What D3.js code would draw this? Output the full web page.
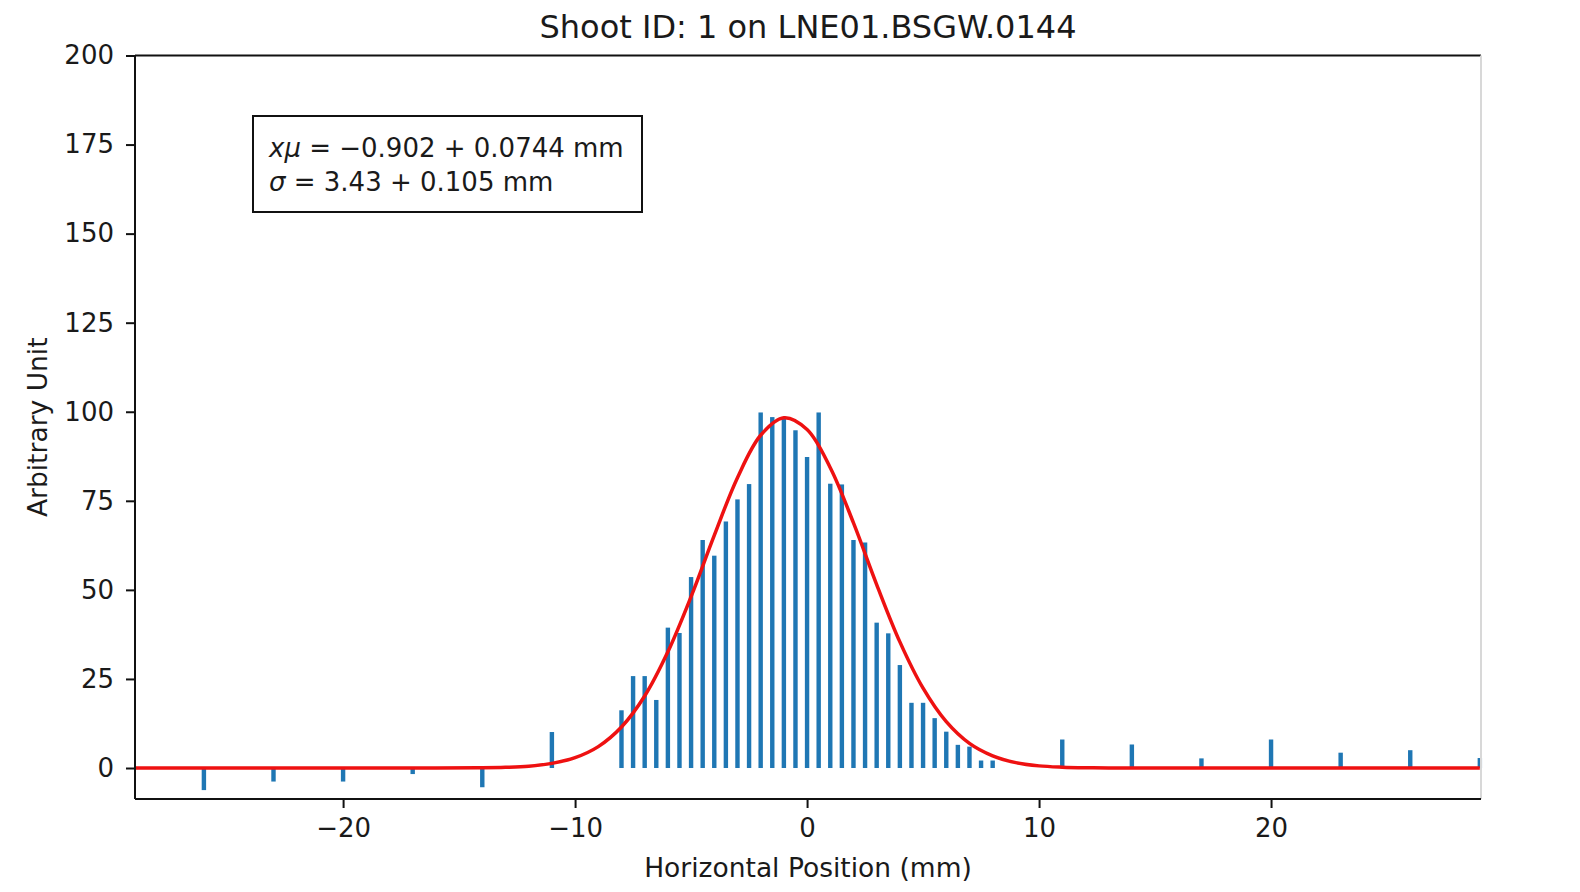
<html>

<head>
    <meta charset="utf-8">
    <script src="https://d3js.org/d3.v7.min.js"></script>
    <style>
        body { margin: 0; background: white; }
        text { font-family: "DejaVu Sans", sans-serif; fill: #1a1a1a; }
    </style>
</head>

<body>
    <svg id="chart" width="1580" height="892"></svg>
    <script>

        // bar positions (mm) and heights
        const tailLeftX = [-26, -23, -20, -17, -14, -11]
        const tailLeftY = [-6.2, -3.8, -3.8, -1.7, -5.4, 10.1]

        const centerX = [-8, -7.5, -7, -6.5, -6, -5.5, -5, -4.5, -4, -3.5, -3, -2.5, -2, -1.5, -1, -0.5,
            0, 0.5, 1, 1.5, 2, 2.5, 3, 3.5, 4, 4.5, 5, 5.5, 6, 6.5, 7, 7.5, 8]
        const centerY = [16.2, 25.8, 25.8, 19.1, 39.4, 37.9, 53.6, 64.0, 59.6, 69.2, 75.4, 79.7, 99.8, 98.5, 98.0, 94.8,
            87.3, 99.8, 79.8, 79.6, 64.0, 63.3, 40.8, 37.8, 28.9, 18.3, 18.3, 14.0, 10.2, 6.5, 6.0, 2.1, 2.1]

        const tailRightX = [11, 14, 17, 20, 23, 26, 29]
        const tailRightY = [8.0, 6.6, 2.7, 8.0, 4.3, 5.0, 2.8]

        // red fit curve
        const fitX = [-29, -16, -14, -13, -12, -11, -10, -9, -8, -7, -6, -5, -4, -3, -2, -1, 0,
            1, 2, 3, 4, 5, 6, 7, 8, 9, 10, 11, 12, 13, 15, 29]
        const fitY = [0, 0, 0.07, 0.2, 0.5, 1.3, 2.9, 6.0, 11.5, 20.2, 32.6, 48.1, 65.3, 81.5, 93.4, 98.3, 95.0,
            84.3, 68.8, 51.5, 35.4, 22.4, 13.0, 6.9, 3.4, 1.5, 0.6, 0.24, 0.08, 0.02, 0, 0]

        const xTicks = [-20, -10, 0, 10, 20]
        const yTicks = [0, 25, 50, 75, 100, 125, 150, 175, 200]

        const title = "Shoot ID: 1 on LNE01.BSGW.0144"
        const xLabel = "Horizontal Position (mm)"
        const yLabel = "Arbitrary Unit"

        const svg = d3.select("#chart")
        const pLeft = 135, pRight = 1481, pTop = 55.5, pBottom = 799
        const barWidth = 0.19

        const x = d3.scaleLinear().domain([-28.97, 29.05]).range([pLeft, pRight])
        const y = d3.scaleLinear().domain([-8.7, 200]).range([pBottom, pTop])

        const bars = []
        tailLeftX.forEach((v, i) => bars.push({ x: v, y: tailLeftY[i] }))
        centerX.forEach((v, i) => bars.push({ x: v, y: centerY[i] }))
        tailRightX.forEach((v, i) => bars.push({ x: v, y: tailRightY[i] }))

        const bw = x(barWidth) - x(0)
        svg.append("g").selectAll("rect").data(bars)
            .join("rect")
            .attr("x", d => x(d.x) - bw / 2)
            .attr("width", bw)
            .attr("y", d => Math.min(y(d.y), y(0)))
            .attr("height", d => Math.abs(y(d.y) - y(0)))
            .style("fill", "#1f77b4")

        const fit = fitX.map((v, i) => [v, fitY[i]])
        const line = d3.line().x(d => x(d[0])).y(d => y(d[1])).curve(d3.curveCatmullRom.alpha(0.5))
        svg.append("path").datum(fit)
            .attr("d", line)
            .style("fill", "none")
            .style("stroke", "#ee1111")
            .style("stroke-width", 3.5)

        // spines
        svg.append("line").attr("x1", pLeft).attr("x2", pRight).attr("y1", pTop).attr("y2", pTop)
            .style("stroke", "#111").style("stroke-width", 2)
        svg.append("line").attr("x1", pRight).attr("x2", pRight).attr("y1", pTop).attr("y2", pBottom)
            .style("stroke", "#d8d8d8").style("stroke-width", 2)

        const xAxis = svg.append("g")
            .attr("transform", `translate(0,${pBottom})`)
            .call(d3.axisBottom(x).tickValues(xTicks).tickSize(9).tickPadding(11)
                .tickFormat(d => d3.format("d")(d).replace("-", "\u2212")))
        const yAxis = svg.append("g")
            .attr("transform", `translate(${pLeft},0)`)
            .call(d3.axisLeft(y).tickValues(yTicks).tickSize(9).tickPadding(12))

        ;[xAxis, yAxis].forEach(a => {
            a.select(".domain").style("stroke", "#111").style("stroke-width", 2)
            a.selectAll(".tick line").style("stroke", "#111").style("stroke-width", 2)
            a.selectAll(".tick text")
                .style("font-family", "DejaVu Sans")
                .style("font-size", "26px")
                .style("fill", "#1a1a1a")
        })
        // extend the bottom/left spines to the full plot box
        xAxis.select(".domain").attr("d", `M${pLeft},0H${pRight}`)
        yAxis.select(".domain").attr("d", `M0,${pBottom}V${pTop}`)

        svg.append("text")
            .attr("x", (pLeft + pRight) / 2).attr("y", 38)
            .attr("text-anchor", "middle")
            .style("font-size", "32px")
            .text(title)

        svg.append("text")
            .attr("x", (pLeft + pRight) / 2).attr("y", 877)
            .attr("text-anchor", "middle")
            .style("font-size", "26.5px")
            .text(xLabel)

        svg.append("text")
            .attr("transform", `translate(47,${(pTop + pBottom) / 2}) rotate(-90)`)
            .attr("text-anchor", "middle")
            .style("font-size", "26.5px")
            .text(yLabel)

        // fit result box
        const box = svg.append("g")
        box.append("rect")
            .attr("x", 253).attr("y", 116).attr("width", 389).attr("height", 96)
            .style("fill", "white").style("stroke", "#111").style("stroke-width", 2)

        const t1 = box.append("text").attr("x", 269).attr("y", 157).style("font-size", "26px")
        t1.append("tspan").style("font-style", "italic").text("x\u03bc")
        t1.append("tspan").text(" = \u22120.902 + 0.0744 mm")

        const t2 = box.append("text").attr("x", 269).attr("y", 191).style("font-size", "26px")
        t2.append("tspan").style("font-style", "italic").text("\u03c3")
        t2.append("tspan").text(" = 3.43 + 0.105 mm")

    </script>
</body>

</html>
